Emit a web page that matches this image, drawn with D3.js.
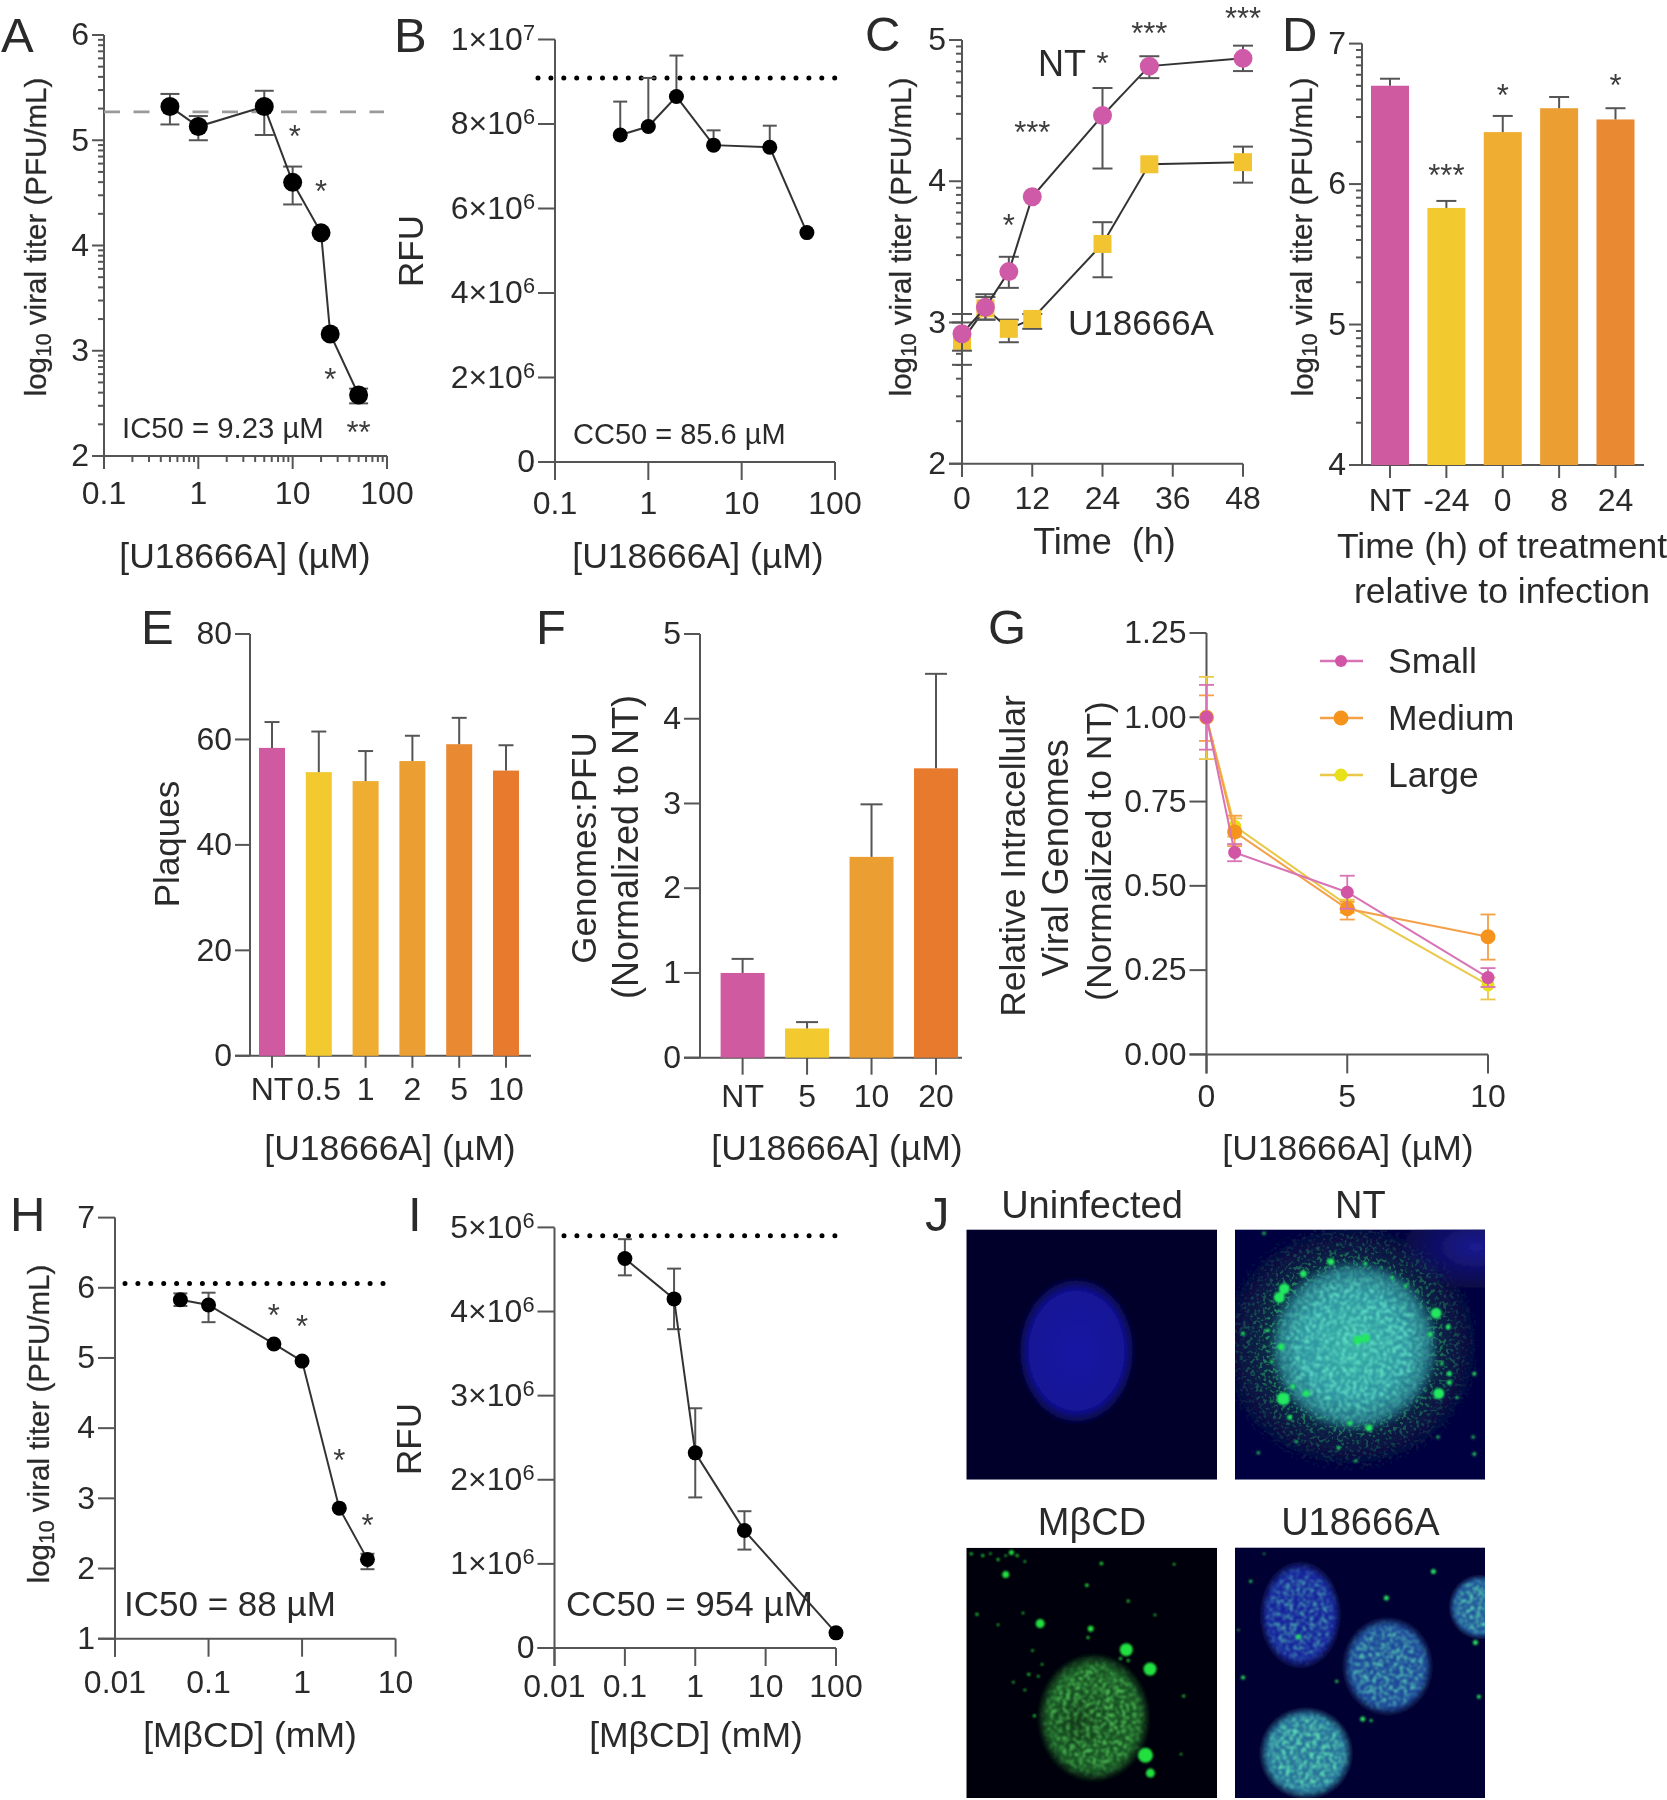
<!DOCTYPE html>
<html><head><meta charset="utf-8">
<script src="https://cdnjs.cloudflare.com/ajax/libs/d3/7.8.5/d3.min.js"></script>
<style>
html,body{margin:0;background:#fff}
svg{display:block}
text{font-family:"Liberation Sans",Arial,sans-serif;fill:#2c2c2c}
.domain,.tick line{stroke:#555;stroke-width:2}
</style></head><body>
<svg id="c" width="1667" height="1800"></svg>
<script>
/* ---------- data ---------- */
const A_dose=[0.5,1,5,10,20,25,50];
const A_mean=[5.32,5.13,5.32,4.6,4.12,3.16,2.58];
const A_hi=[5.44,5.23,5.47,4.75,4.12,3.16,2.64];
const A_lo=[5.15,5.0,5.05,4.39,4.12,3.16,2.5];
const A_ref=5.27;
const A_xTicks=[0.1,1,10,100], A_yTicks=[2,3,4,5,6];
const A_stars=[[10.5,5.08,"*"],[20,4.565,"*"],[25,2.77,"*"],[50,2.27,"**"]];

const B_dose=[0.5,1,2,5,20,50];
const B_mean=[7.74e6,7.94e6,8.65e6,7.5e6,7.45e6,5.43e6];
const B_hi=[8.53e6,9.09e6,9.62e6,7.85e6,7.96e6,5.43e6];
const B_ref=9.09e6;
const B_yTicks=[0,2e6,4e6,6e6,8e6,1e7];
const B_yLabels=["0","2×10^6","4×10^6","6×10^6","8×10^6","1×10^7"];

const C_time=[0,4,8,12,24,32,48];
const C_nt=[2.92,3.107,3.36,3.89,4.465,4.815,4.87];
const C_ntHi=[3.0,3.2,3.465,3.89,4.66,4.885,4.96];
const C_ntLo=[2.8,3.02,3.245,3.89,4.09,4.73,4.78];
const C_u=[2.87,3.1,2.955,3.025,3.556,4.12,4.135];
const C_uHi=[3.06,3.18,3.02,3.06,3.71,4.12,4.245];
const C_uLo=[2.7,3.02,2.86,2.955,3.32,4.12,3.99];
const C_xTicks=[0,12,24,36,48], C_yTicks=[2,3,4,5];
const C_stars=[[24,4.87,"*"],[12,4.377,"***"],[32,5.08,"***"],[48,5.185,"***"],[8,3.725,"*"]];

const D_cats=["NT","-24","0","8","24"];
const D_vals=[6.70,5.83,6.37,6.54,6.46];
const D_hi=[6.75,5.88,6.485,6.62,6.54];
const D_yTicks=[4,5,6,7];
const D_colors=["#cf5aa0","#f2c92f","#efae30","#eb9f30","#e98a30"];
const D_stars=[["-24",6.10,"***"],["0",6.665,"*"],["24",6.74,"*"]];

const E_cats=["NT","0.5","1","2","5","10"];
const E_vals=[58.4,53.8,52.1,55.9,59.1,54.1];
const E_hi=[63.3,61.5,57.8,60.7,64.1,58.9];
const E_yTicks=[0,20,40,60,80];
const E_colors=["#cf5aa0","#f2c92f","#efae30","#eb9f30","#e98a30","#e87a2f"];

const F_cats=["NT","5","10","20"];
const F_vals=[1.0,0.345,2.37,3.415];
const F_hi=[1.166,0.42,2.99,4.53];
const F_yTicks=[0,1,2,3,4,5];
const F_colors=["#cf5aa0","#f2c92f","#eb9f30","#e87a2f"];

const G_dose=[0,1,5,10];
const G_small=[1.0,0.599,0.481,0.228], G_smallHi=[1.096,0.624,0.53,0.256], G_smallLo=[0.904,0.573,0.432,0.2];
const G_medium=[1.0,0.66,0.432,0.349], G_mediumHi=[1.065,0.708,0.453,0.415], G_mediumLo=[0.93,0.618,0.40,0.281];
const G_large=[1.0,0.677,0.443,0.206], G_largeHi=[1.12,0.70,0.459,0.228], G_largeLo=[0.876,0.646,0.42,0.163];
const G_xTicks=[0,5,10], G_yTicks=[0,0.25,0.5,0.75,1,1.25];
const G_names=["Small","Medium","Large"];

const H_dose=[0.05,0.1,0.5,1,2.5,5];
const H_mean=[5.83,5.755,5.2,4.955,2.86,2.13];
const H_hi=[5.92,5.93,5.2,4.955,2.86,2.21];
const H_lo=[5.74,5.51,5.2,4.955,2.86,1.99];
const H_ref=6.06;
const H_xTicks=[0.01,0.1,1,10], H_yTicks=[1,2,3,4,5,6,7];
const H_stars=[[0.5,5.68,"*"],[1,5.52,"*"],[2.5,3.61,"*"],[5,2.68,"*"]];

const I_dose=[0.1,0.5,1,5,100];
const I_mean=[4.63e6,4.15e6,2.32e6,1.396e6,0.18e6];
const I_hi=[4.86e6,4.51e6,2.85e6,1.626e6,0.18e6];
const I_lo=[4.43e6,3.79e6,1.79e6,1.17e6,0.18e6];
const I_ref=4.9e6;
const I_xTicks=[0.01,0.1,1,10,100];
const I_yTicks=[0,1e6,2e6,3e6,4e6,5e6];
const I_yLabels=["0","1×10^6","2×10^6","3×10^6","4×10^6","5×10^6"];

/* micrograph spots, in picture units: [x, y, radius] */
const J_ntSpots=[[965,297,5.5],[978,275,5.5],[1028,237,3.5],[1100,207,3.5],[975,553,6.5],[1382,540,5.5],[1375,337,5.5],[1170,405,4.5],[1190,400,4.5],[1035,540,3.5],[1200,627,3.5],[1150,615,2.5],[992,600,2.5],[1190,212,2],[970,422,3.5],[1407,372,2.5],[1410,490,2.5],[1410,512,2.5],[1360,390,2.5],[1295,268,2],[1260,247,1.8],[1475,490,2],[870,388,2],[935,380,1.8],[945,460,1.8],[1000,522,2.5],[1120,677,2],[1475,693,1.8],[1472,650,1.5],[1010,662,1.5],[1380,650,1.5],[1390,465,1.8],[925,135,1.5],[1165,710,1.5],[910,690,1.5],[1430,550,1.5]];
const J_mcdSpots=[[250,998,3.5],[340,1122,4.5],[472,1135,3],[565,1188,6.5],[627,1237,6.5],[615,1455,7.5],[628,1500,4.5],[265,942,2.5],[500,970,1.8],[462,1025,1.8],[175,1098,1.5],[570,1065,1.5],[715,1305,1.5],[708,1452,1.2],[690,972,1.2],[640,1100,1.2],[465,1157,1.5],[230,1125,1.2],[295,1095,1.2],[190,950,1.5],[230,960,1.5],[280,950,1.5],[300,965,1.2],[160,945,1.5],[210,945,1.2],[250,950,1.2],[320,1190,1.2],[310,1250,1.5],[335,1255,1.2],[300,1290,1.2],[270,1270,1.2],[325,1355,1.5],[345,1225,1.2],[550,1210,1.5],[570,1215,1.5]];
const J_uSpots=[[1368,990,2.5],[1245,1057,2.5],[1015,1155,2.5],[1478,1170,2.5],[870,1258,2],[1487,1307,2],[1183,1363,2.5],[1205,1367,1.5],[1115,1268,1.5],[890,1015,1.5],[858,1138,1],[925,945,1]];
const J_uNuclei=[[1020,1100,100,130,.1],[1248,1230,112,118,.45],[1035,1450,116,110,.85],[1490,1080,75,75,.6]];

/* ---------- helpers ---------- */
const svg=d3.select("#c");
const defs=svg.append("defs");
const root=svg.append("g").attr("filter","url(#soft)");
defs.append("filter").attr("id","soft").attr("filterUnits","userSpaceOnUse")
  .attr("x",0).attr("y",0).attr("width",1667).attr("height",1800)
  .append("feGaussianBlur").attr("stdDeviation",0.6);

function supers(sel){
  sel.each(function(){
    const t=d3.select(this), s=t.text();
    if(!s.includes("^"))return;
    const [a,b]=s.split("^");
    t.text(null);
    t.append("tspan").text(a);
    t.append("tspan").attr("dy","-0.46em").attr("font-size","0.68em").text(b);
  });
}
function minorLog(lo,hi){const o=[];for(let n=lo;n<hi;n++)for(let k=2;k<10;k++)o.push(n+Math.log10(k));return o;}

function axes(x,y,o){
  const fs=o.fs||32, x1=o.xEnd||x.range()[x.range().length-1];
  const y0=y.range()[0], y1=y.range()[1];
  const xa=d3.axisBottom(x).offset(0).tickSizeOuter(0).tickSize(o.xl).tickPadding(o.xp);
  if(o.xt)xa.tickValues(o.xt);
  xa.tickFormat(o.xf||(d=>d));
  const gx=root.append("g").attr("transform",`translate(0,${y0})`).call(xa);
  gx.select(".domain").attr("d",`M${o.ax-o.yl},0H${x1}`);
  gx.selectAll("text").attr("font-size",fs).style("fill","#2c2c2c");
  const ya=d3.axisLeft(y).offset(0).tickSizeOuter(0).tickSize(o.yl).tickPadding(o.yp||3).tickValues(o.yt);
  ya.tickFormat(o.yf||(d=>d));
  const gy=root.append("g").attr("transform",`translate(${o.ax},0)`).call(ya);
  gy.select(".domain").attr("d",`M0,${y1}V${y0+(o.yExt||0)}`);
  gy.selectAll("text").attr("font-size",o.yfs||fs).style("fill","#2c2c2c").call(supers);
  if(o.ym){
    const m=root.append("g").attr("transform",`translate(${o.ax},0)`)
      .call(d3.axisLeft(y).offset(0).tickSizeOuter(0).tickSize(6).tickValues(o.ym).tickFormat(""));
    m.select(".domain").remove();
  }
  if(o.xm){
    const m=root.append("g").attr("transform",`translate(0,${y0})`)
      .call(d3.axisBottom(x).offset(0).tickSizeOuter(0).tickSize(6).tickValues(o.xm).tickFormat(""));
    m.select(".domain").remove();
  }
}
function errs(x,y,xs,hi,lo,cap,col,w){
  const g=root.append("g").attr("stroke",col||"#555").attr("stroke-width",w||2).attr("fill","none");
  xs.forEach((d,i)=>{
    if(lo&&hi[i]===lo[i])return;
    const top=y(hi[i]), px=x(d), bot=lo?y(lo[i]):y.__base(i);
    if(top===bot)return;
    g.append("line").attr("x1",px).attr("x2",px).attr("y1",top).attr("y2",bot);
    g.append("line").attr("x1",px-cap/2).attr("x2",px+cap/2).attr("y1",top).attr("y2",top);
    if(lo)g.append("line").attr("x1",px-cap/2).attr("x2",px+cap/2).attr("y1",bot).attr("y2",bot);
  });
}
function curve(x,y,xs,ys,col,w){
  root.append("path").attr("fill","none").attr("stroke",col||"#333").attr("stroke-width",w||2)
   .attr("d",d3.line().x((d,i)=>x(xs[i])).y(d=>y(d))(ys));
}
function dots(x,y,xs,ys,r,col){
  root.append("g").attr("fill",col||"#000").selectAll("circle").data(ys).join("circle")
   .attr("cx",(d,i)=>x(xs[i])).attr("cy",d=>y(d)).attr("r",r);
}
function squares(x,y,xs,ys,s,col){
  root.append("g").attr("fill",col).selectAll("rect").data(ys).join("rect")
   .attr("x",(d,i)=>x(xs[i])-s/2).attr("y",d=>y(d)-s/2).attr("width",s).attr("height",s);
}
function txt(s,x,y,fs,o={}){
  const t=root.append("text").attr("x",x).attr("y",y).attr("font-size",fs)
    .attr("text-anchor",o.a||"start").text(s);
  if(o.c)t.style("fill",o.c);
  return t;
}
function vtxt(s,x,yc,fs){
  return root.append("text").attr("transform",`translate(${x},${yc}) rotate(-90)`)
    .attr("font-size",fs).attr("text-anchor","middle").text(s);
}
function logTitle(x,yc){
  const t=root.append("text").attr("transform",`translate(${x},${yc}) rotate(-90)`)
    .attr("font-size",29.5).attr("text-anchor","middle").attr("stroke","#2c2c2c").attr("stroke-width",0.3);
  t.append("tspan").text("log");
  t.append("tspan").attr("font-size","0.72em").attr("dy","0.22em").text("10");
  t.append("tspan").attr("dy","-0.16em").text(" viral titer (PFU/mL)");
}
function stars(x,y,list){
  const fs=31;
  root.append("g").selectAll("text").data(list).join("text")
   .attr("x",d=>x(d[0])).attr("y",d=>y(d[1])+fs*0.5).attr("font-size",fs)
   .attr("text-anchor","middle").style("fill","#3c3c3c").text(d=>d[2]);
}
function refLine(x0,x1,yy,kind){
  const l=root.append("line").attr("x1",x0).attr("x2",x1).attr("y1",yy).attr("y2",yy);
  if(kind==="dash")l.attr("stroke","#9a9a9a").attr("stroke-width",2.8).attr("stroke-dasharray","16 13.5");
  else l.attr("stroke","#000").attr("stroke-width",5).attr("stroke-linecap","round").attr("stroke-dasharray","0 12.9");
}
function bars(x,y,cats,vals,hi,colors,w,cap){
  root.append("g").selectAll("rect").data(vals).join("rect")
   .attr("x",(d,i)=>x(cats[i])-w/2).attr("width",w)
   .attr("y",d=>y(d)).attr("height",d=>y.range()[0]-y(d))
   .attr("fill",(d,i)=>colors[i]);
  const g=root.append("g").attr("stroke","#555").attr("stroke-width",2);
  cats.forEach((c,i)=>{
    g.append("line").attr("x1",x(c)).attr("x2",x(c)).attr("y1",y(hi[i])).attr("y2",y(vals[i]));
    g.append("line").attr("x1",x(c)-cap/2).attr("x2",x(c)+cap/2).attr("y1",y(hi[i])).attr("y2",y(hi[i]));
  });
}
const titleFs=35.5, letterFs=49;

/* ---------- A ---------- */
{
  const x=d3.scaleLog().domain([0.1,100]).range([104,387]);
  const y=d3.scaleLinear().domain([2,6]).range([456,35]);
  const xm=[];[0.1,1,10].forEach(b=>{for(let k=2;k<10;k++)xm.push(b*k)});
  axes(x,y,{ax:104,xt:A_xTicks,xl:13,xp:12,yl:12,yt:A_yTicks,ym:minorLog(2,6),xm,yExt:13});
  refLine(104,384,y(A_ref),"dash");
  errs(x,y,A_dose,A_hi,A_lo,19);
  curve(x,y,A_dose,A_mean);
  dots(x,y,A_dose,A_mean,9.5);
  stars(x,y,A_stars);
  logTitle(46,237);
  txt("[U18666A] (µM)",245,568,titleFs,{a:"middle"});
  txt("IC50 = 9.23 µM",122,438,29.3);
  txt("A",1,52,letterFs);
}
/* ---------- B ---------- */
{
  const x=d3.scaleLog().domain([0.1,100]).range([555,835]);
  const y=d3.scaleLinear().domain([0,1e7]).range([462,39.5]);
  axes(x,y,{ax:555,xt:A_xTicks,xl:18,xp:11,yl:17,yt:B_yTicks,yf:(d,i)=>B_yLabels[i],yExt:18});
  refLine(538,835,y(B_ref),"dot");
  y.__base=i=>y(B_mean[i]);
  errs(x,y,B_dose,B_hi,null,14);
  curve(x,y,B_dose,B_mean);
  dots(x,y,B_dose,B_mean,7.5);
  vtxt("RFU",423,251,35);
  txt("[U18666A] (µM)",698,568,titleFs,{a:"middle"});
  txt("CC50 = 85.6 µM",573,444,29);
  txt("B",394,52,letterFs);
}
/* ---------- C ---------- */
{
  const x=d3.scaleLinear().domain([0,48]).range([962,1243]);
  const y=d3.scaleLinear().domain([2,5]).range([463.7,40]);
  axes(x,y,{ax:962,xt:C_xTicks,xl:13,xp:10,yl:13,yt:C_yTicks,ym:minorLog(2,5),yExt:13});
  errs(x,y,C_time,C_uHi,C_uLo,20);
  curve(x,y,C_time,C_u);
  squares(x,y,C_time,C_u,18,"#f2c431");
  errs(x,y,C_time,C_ntHi,C_ntLo,20);
  curve(x,y,C_time,C_nt);
  dots(x,y,C_time,C_nt,9.5,"#cf5aa8");
  stars(x,y,C_stars);
  logTitle(911,237);
  txt("Time  (h)",1104.5,554,titleFs+.5,{a:"middle"}).style("white-space","pre");
  txt("NT",1038,76,36);
  txt("U18666A",1068,335,35);
  txt("C",865,51,letterFs);
}
/* ---------- D ---------- */
{
  const x=d3.scalePoint().domain(D_cats).range([1390,1615.5]);
  const y=d3.scaleLinear().domain([4,7]).range([465,43.6]);
  axes(x,y,{ax:1362,xl:13,xp:10,yl:13,yt:D_yTicks,ym:minorLog(4,7),xEnd:1644});
  bars(x,y,D_cats,D_vals,D_hi,D_colors,38,20);
  stars(x,y,D_stars);
  logTitle(1312.5,237);
  txt("Time (h) of treatment",1502,558,titleFs,{a:"middle"});
  txt("relative to infection",1502,603,titleFs,{a:"middle"});
  txt("D",1282,51,letterFs);
}
/* ---------- E ---------- */
{
  const x=d3.scalePoint().domain(E_cats).range([272,506]);
  const y=d3.scaleLinear().domain([0,80]).range([1055.8,634]);
  axes(x,y,{ax:250,xl:12,xp:9,yl:15,yt:E_yTicks,xEnd:531});
  bars(x,y,E_cats,E_vals,E_hi,E_colors,26,15);
  vtxt("Plaques",179,844,35);
  txt("[U18666A] (µM)",390,1160,titleFs,{a:"middle"});
  txt("E",141,644,letterFs);
}
/* ---------- F ---------- */
{
  const x=d3.scalePoint().domain(F_cats).range([742.6,936]);
  const y=d3.scaleLinear().domain([0,5]).range([1057.7,634]);
  axes(x,y,{ax:700,xl:17,xp:10,yl:16,yt:F_yTicks,xEnd:962});
  bars(x,y,F_cats,F_vals,F_hi,F_colors,44,22);
  vtxt("Genomes:PFU",596,848,35);
  vtxt("(Normalized to NT)",638,847,36);
  txt("[U18666A] (µM)",837,1160,titleFs,{a:"middle"});
  txt("F",536,644,letterFs);
}
/* ---------- G ---------- */
{
  const x=d3.scaleLinear().domain([0,10]).range([1206.5,1488]);
  const y=d3.scaleLinear().domain([0,1.25]).range([1054.4,633]);
  axes(x,y,{ax:1206.5,xt:G_xTicks,xl:19,xp:11,yl:17,yt:G_yTicks,yf:d3.format(".2f"),yExt:19});
  const G_series=[
    [G_large,G_largeHi,G_largeLo,"#eac84a","#e9e01a",6.5],
    [G_medium,G_mediumHi,G_mediumLo,"#f4a04a","#f6931c",7.5],
    [G_small,G_smallHi,G_smallLo,"#d873b5","#d254a5",6.5]];
  G_series.forEach(s=>{
    errs(x,y,G_dose,s[1],s[2],15,s[3],1.8);
    curve(x,y,G_dose,s[0],s[3],2);
    dots(x,y,G_dose,s[0],s[5],s[4]);
  });
  const legendY=[661,718,775];
  [["#d873b5","#d254a5",6],["#f4a04a","#f6931c",7.5],["#eac84a","#e9e01a",6.5]].forEach((c,i)=>{
    const yy=legendY[i];
    root.append("line").attr("x1",1320).attr("x2",1363).attr("y1",yy).attr("y2",yy).attr("stroke",c[0]).attr("stroke-width",2.5);
    root.append("circle").attr("cx",1341).attr("cy",yy).attr("r",c[2]).attr("fill",c[1]);
    txt(G_names[i],1388,yy+12,35.5);
  });
  vtxt("Relative Intracellular",1024.7,856,35.5);
  vtxt("Viral Genomes",1067.6,858,36);
  vtxt("(Normalized to NT)",1110.6,851,35.5);
  txt("[U18666A] (µM)",1348,1160,titleFs,{a:"middle"});
  txt("G",988,644,letterFs);
}
/* ---------- H ---------- */
{
  const x=d3.scaleLog().domain([0.01,10]).range([115,395.6]);
  const y=d3.scaleLinear().domain([1,7]).range([1638.7,1217.6]);
  axes(x,y,{ax:115,xt:H_xTicks,xf:d=>d,xl:18,xp:14,yl:17,yt:H_yTicks,yExt:18});
  refLine(125,395,y(H_ref),"dot");
  errs(x,y,H_dose,H_hi,H_lo,14);
  curve(x,y,H_dose,H_mean);
  dots(x,y,H_dose,H_mean,7.5);
  stars(x,y,H_stars);
  logTitle(49,1424);
  txt("[MβCD] (mM)",250,1747,titleFs,{a:"middle"});
  txt("IC50 = 88 µM",124,1616,35);
  txt("H",10,1231,letterFs);
}
/* ---------- I ---------- */
{
  const x=d3.scaleLog().domain([0.01,100]).range([554.5,836]);
  const y=d3.scaleLinear().domain([0,5e6]).range([1648,1227.4]);
  axes(x,y,{ax:554.5,xt:I_xTicks,xl:18,xp:8,yl:17,yt:I_yTicks,yf:(d,i)=>I_yLabels[i],yExt:18});
  refLine(564,836,y(I_ref),"dot");
  errs(x,y,I_dose,I_hi,I_lo,14);
  curve(x,y,I_dose,I_mean);
  dots(x,y,I_dose,I_mean,7.5);
  vtxt("RFU",421,1439,35);
  txt("[MβCD] (mM)",696,1747,titleFs,{a:"middle"});
  txt("CC50 = 954 µM",566,1616,35);
  txt("I",408,1231,letterFs);
}
/* ---------- J micrographs ---------- */
function speckle(id,col,freq,k,off,seed,blur){
  const f=defs.append("filter").attr("id",id).attr("x",-0.1).attr("y",-0.1).attr("width",1.2).attr("height",1.2)
    .attr("color-interpolation-filters","sRGB");
  const c=d3.color(col);
  const mat=`0 0 0 0 ${c.r/255} 0 0 0 0 ${c.g/255} 0 0 0 0 ${c.b/255} ${k} 0 0 0 ${off}`;
  f.append("feTurbulence").attr("type","fractalNoise").attr("baseFrequency",freq).attr("numOctaves",1).attr("seed",seed).attr("result","n1");
  f.append("feColorMatrix").attr("in","n1").attr("type","matrix").attr("values",mat).attr("result","a1");
  f.append("feTurbulence").attr("type","fractalNoise").attr("baseFrequency",freq*0.85).attr("numOctaves",1).attr("seed",seed+5).attr("result","n2");
  f.append("feColorMatrix").attr("in","n2").attr("type","matrix").attr("values",mat).attr("result","a2");
  f.append("feComposite").attr("in","a1").attr("in2","a2").attr("operator","in").attr("result","a3");
  f.append("feComposite").attr("in","a3").attr("in2","SourceAlpha").attr("operator","in").attr("result","m");
  f.append("feGaussianBlur").attr("in","m").attr("stdDeviation",blur||1);
}
speckle("spTeal","#6ff5d0",0.3,5,-1.9,3);
speckle("spHalo","#35cc6c",0.3,9,-4.1,7,0.7);
speckle("spGreen","#62e868",0.3,5,-1.9,11);
speckle("spCyan","#62e8b8",0.3,5,-1.9,19);
defs.append("filter").attr("id","b1").attr("x",-0.4).attr("y",-0.4).attr("width",1.8).attr("height",1.8)
  .append("feGaussianBlur").attr("stdDeviation",0.8);
function radial(id,stops){
  const g=defs.append("radialGradient").attr("id",id);
  stops.forEach(s=>g.append("stop").attr("offset",s[0]).attr("stop-color",s[1]).attr("stop-opacity",s[2]));
}
radial("fade",[[0.3,"#fff",1],[1,"#fff",0]]);
radial("edge",[[0.72,"#fff",1],[1,"#fff",0.1]]);
radial("glow",[[0,"#1e1e9c",0.9],[1,"#1e1e9c",0]]);
radial("gUn",[[0,"#1515a4",1],[0.8,"#121296",1],[1,"#121296",0]]);
radial("gWash",[[0.3,"#1f8a5c",0.55],[1,"#1f8a5c",0]]);
radial("gTeal",[[0,"#36aca4",1],[0.6,"#2c92a0",1],[0.85,"#287f92",0.8],[1,"#287f92",0]]);
radial("gMcd",[[0,"#14461e",1],[0.8,"#185424",1],[1,"#185424",0]]);
radial("gDark",[[0,"#000",0.3],[1,"#000",0]]);

function tile(id,rx0,rx1,ry0,ry1,zx0,zx1,zy0,zy1,bg){
  defs.append("clipPath").attr("id",id).append("rect").attr("x",rx0).attr("y",ry0).attr("width",rx1-rx0).attr("height",ry1-ry0);
  const g=root.append("g").attr("clip-path",`url(#${id})`);
  g.append("rect").attr("x",rx0).attr("y",ry0).attr("width",rx1-rx0).attr("height",ry1-ry0).attr("fill",bg);
  const X=d3.scaleLinear().domain([zx0,zx1]).range([rx0,rx1]);
  const Y=d3.scaleLinear().domain([zy0,zy1]).range([ry0,ry1]);
  const k=(rx1-rx0)/(zx1-zx0), ky=(ry1-ry0)/(zy1-zy0);
  g.ell=(cx,cy,a,b)=>g.append("ellipse").attr("cx",X(cx)).attr("cy",Y(cy)).attr("rx",a*k).attr("ry",b*ky);
  g.spots=(list,col)=>g.append("g").attr("fill",col).attr("filter","url(#b1)").selectAll("circle").data(list).join("circle")
     .attr("cx",d=>X(d[0])).attr("cy",d=>Y(d[1])).attr("r",d=>d[2]);
  return g;
}
{
  const t=tile("tU",966.3,1217,1229.4,1479.7,147,802,125,758,"#02022c");
  t.ell(435,432,155,188).attr("fill","url(#gUn)");
  txt("Uninfected",1092,1217.6,38,{a:"middle"});
}
{
  const t=tile("tN",1235,1485,1229.4,1479.7,849,1503,125,758,"#05053f");
  t.ell(1480,170,200,110).attr("fill","url(#glow)");
  t.ell(1150,420,330,300).attr("fill","url(#gWash)");
  t.ell(1150,420,340,320).attr("fill","url(#fade)").attr("filter","url(#spHalo)");
  t.ell(1160,420,225,220).attr("fill","url(#gTeal)");
  t.ell(1160,420,210,205).attr("fill","url(#edge)").attr("opacity",0.8).attr("filter","url(#spTeal)");
  t.spots(J_ntSpots,"#22e860");
  txt("NT",1360.4,1217.6,38,{a:"middle"});
}
{
  const t=tile("tM",966.3,1217,1547.7,1798,147,802,930,1563,"#00000a");
  t.ell(480,1360,150,165).attr("fill","url(#gMcd)");
  t.ell(480,1360,140,155).attr("fill","url(#edge)").attr("opacity",0.75).attr("filter","url(#spGreen)");
  t.ell(430,1375,70,80).attr("fill","url(#gDark)");
  t.spots(J_mcdSpots,"#22e040");
  txt("MβCD",1092,1534.7,38,{a:"middle"});
}
{
  const t=tile("tA",1235,1485,1547.7,1798,849,1503,930,1563,"#030330");
  J_uNuclei.forEach((n,i)=>{
    const c=d3.interpolateRgb("#15189c","#2a8098")(n[4]);
    radial("gU"+i,[[0.8,c,1],[1,c,0]]);
    t.ell(n[0],n[1],n[2]+8,n[3]+8).attr("fill",`url(#gU${i})`);
    t.ell(n[0],n[1],n[2],n[3]).attr("fill","url(#edge)").attr("opacity",0.55+0.45*n[4]).attr("filter","url(#spCyan)");
  });
  t.spots(J_uSpots,"#22e060");
  txt("U18666A",1360.4,1534.7,38,{a:"middle"});
}
txt("J",925,1231,letterFs);
</script></body></html>
